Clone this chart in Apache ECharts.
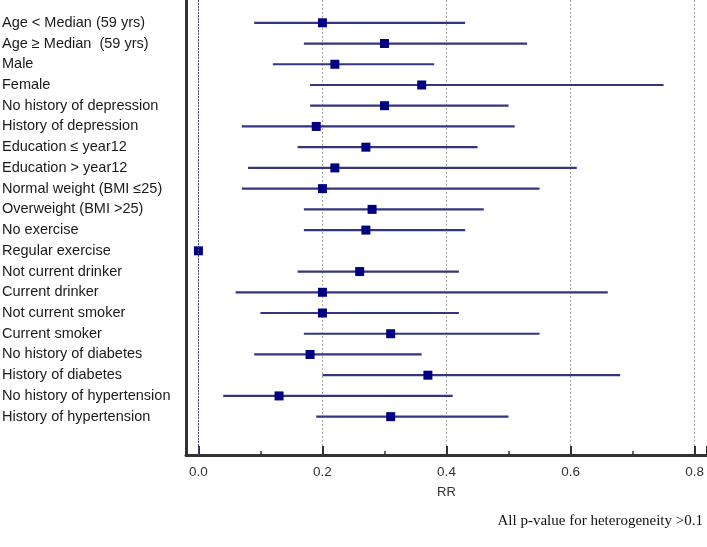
<!DOCTYPE html>
<html>
<head>
<meta charset="utf-8">
<script src="https://cdn.jsdelivr.net/npm/echarts@6/dist/echarts.min.js"></script>
<style>
html,body{margin:0;padding:0;background:#fff;}
#chart{width:707px;height:547px;}
</style>
</head>
<body>
<div id="chart"></div>
<script>
const categories = [
  "Age < Median (59 yrs)",
  "Age \u2265 Median  (59 yrs)",
  "Male",
  "Female",
  "No history of depression",
  "History of depression",
  "Education \u2264 year12",
  "Education > year12",
  "Normal weight (BMI \u226425)",
  "Overweight (BMI >25)",
  "No exercise",
  "Regular exercise",
  "Not current drinker",
  "Current drinker",
  "Not current smoker",
  "Current smoker",
  "No history of diabetes",
  "History of diabetes",
  "No history of hypertension",
  "History of hypertension"
];
const rr    = [0.20, 0.30, 0.22, 0.36, 0.30, 0.19, 0.27, 0.22, 0.20, 0.28, 0.27, 0.00, 0.26, 0.20, 0.20, 0.31, 0.18, 0.37, 0.13, 0.31];
const lower = [0.09, 0.17, 0.12, 0.18, 0.18, 0.07, 0.16, 0.08, 0.07, 0.17, 0.17, null, 0.16, 0.06, 0.10, 0.17, 0.09, 0.20, 0.04, 0.19];
const upper = [0.43, 0.53, 0.38, 0.75, 0.50, 0.51, 0.45, 0.61, 0.55, 0.46, 0.43, null, 0.42, 0.66, 0.42, 0.55, 0.36, 0.68, 0.41, 0.50];
const xAxisName = "RR";
const footnote = "All p-value for heterogeneity >0.1";

const ciData = [];
categories.forEach((c, i) => {
  if (lower[i] !== null && upper[i] !== null) ciData.push([lower[i], upper[i], i]);
});
const pointData = categories.map((c, i) => [rr[i], i]);
const labelData = categories.map((c, i) => [0, i]);

const chart = echarts.init(document.getElementById('chart'), null, {renderer: 'canvas'});
chart.setOption({
  animation: false,
  backgroundColor: '#ffffff',
  grid: {left: 186, right: 0, top: 0, bottom: 92, containLabel: false},
  xAxis: {
    type: 'value',
    min: -0.02,
    max: 0.82,
    name: xAxisName,
    nameLocation: 'middle',
    nameGap: 31,
    nameTextStyle: {fontFamily: 'Liberation Sans', fontSize: 13, color: '#333'},
    axisLine: {show: true, onZero: false, lineStyle: {color: '#333', width: 3}},
    axisTick: {show: true, inside: true, length: 9, lineStyle: {color: '#333', width: 2}},
    minorTick: {show: true, splitNumber: 2, length: 4, lineStyle: {color: '#333', width: 1.5}},
    axisLabel: {
      margin: 10, fontFamily: 'Liberation Sans', fontSize: 13.5, color: '#333',
      showMinLabel: false, showMaxLabel: false,
      formatter: v => (Math.abs(v - 0) < 1e-9 || Math.abs(v - 0.2) < 1e-9 || Math.abs(v - 0.4) < 1e-9 || Math.abs(v - 0.6) < 1e-9 || Math.abs(v - 0.8) < 1e-9) ? v.toFixed(1) : ''
    },
    splitLine: {show: true, showMinLine: false, showMaxLine: false, lineStyle: {color: '#aaaaaa', width: 1, type: [2, 2]}}
  },
  yAxis: {
    type: 'value',
    inverse: true,
    min: -1.1,
    max: 20.85,
    axisLine: {show: true, onZero: false, lineStyle: {color: '#333', width: 3}},
    axisTick: {show: false},
    axisLabel: {show: false},
    splitLine: {show: false}
  },
  series: [
    {
      type: 'custom',
      name: 'labels',
      silent: true,
      clip: false,
      encode: {x: 0, y: 1},
      data: labelData,
      renderItem: function (params, api) {
        const p = api.coord([0, api.value(1)]);
        return {
          type: 'text',
          x: 2,
          y: p[1],
          style: {
            text: categories[params.dataIndex],
            fontFamily: 'Liberation Sans',
            fontSize: 14.5,
            fill: '#1a1a1a',
            align: 'left',
            verticalAlign: 'middle'
          }
        };
      }
    },
    {
      type: 'custom',
      name: 'ci',
      silent: true,
      encode: {x: [0, 1], y: 2},
      data: ciData,
      z: 3,
      renderItem: function (params, api) {
        const a = api.coord([api.value(0), api.value(2)]);
        const b = api.coord([api.value(1), api.value(2)]);
        return {
          type: 'line',
          shape: {x1: a[0], y1: a[1], x2: b[0], y2: b[1]},
          style: {stroke: '#35357f', lineWidth: 2.2}
        };
      }
    },
    {
      type: 'scatter',
      name: 'RR',
      symbol: 'rect',
      symbolSize: 9,
      z: 4,
      itemStyle: {color: '#000080', opacity: 1},
      emphasis: {disabled: true},
      data: pointData,
      markLine: {
        silent: true,
        symbol: ['none', 'none'],
        label: {show: false},
        lineStyle: {color: '#4a4a90', width: 1, type: [2, 1], opacity: 0.9},
        data: [{xAxis: 0}]
      }
    }
  ],
  graphic: [
    {
      type: 'text',
      right: 4,
      top: 514,
      style: {
        text: footnote,
        fontFamily: 'Liberation Serif',
        fontSize: 15,
        fill: '#111'
      }
    }
  ]
});
</script>
</body>
</html>
